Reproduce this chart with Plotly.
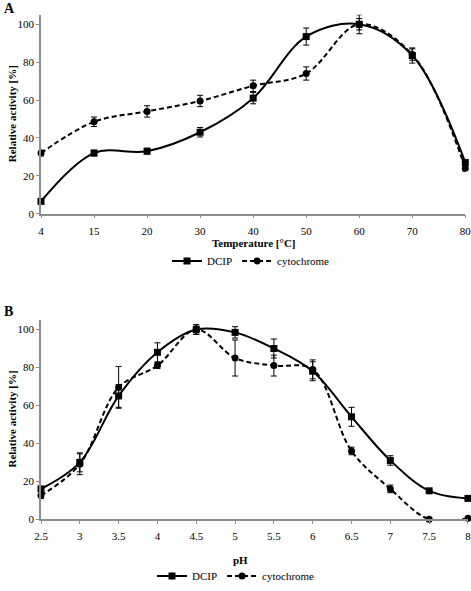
import plotly.graph_objects as go

# Panel A: temperature
temp_labels = ["4", "15", "20", "30", "40", "50", "60", "70", "80"]
dcip_A = [6.5, 32, 33, 43, 61, 93.5, 100, 83.5, 27]
dcip_A_err = [1, 1.5, 1.5, 2.5, 3, 4.5, 3, 4, 1.5]
cyto_A = [32, 48.5, 54, 59.5, 67.5, 74, 100, 84, 24]
cyto_A_err = [1.5, 2.5, 3, 3, 3, 3.5, 5, 3, 1.5]

# Panel B: pH
ph_vals = [2.5, 3, 3.5, 4, 4.5, 5, 5.5, 6, 6.5, 7, 7.5, 8]
ph_ticks = [2.5, 3, 3.5, 4, 4.5, 5, 5.5, 6, 6.5, 7, 7.5, 8]
ph_ticktext = ["2.5", "3", "3.5", "4", "4.5", "5", "5.5", "6", "6.5", "7", "7.5", "8"]
dcip_B = [16, 30, 65, 88, 100, 98.5, 90, 78, 54, 31, 15, 11]
dcip_B_err = [1, 5, 6, 5, 2.5, 3, 5, 5, 5, 2.5, 0.5, 1]
cyto_B = [12.5, 29, 69.5, 81, 100, 85, 81, 79, 36, 16, 0, 0.5]
cyto_B_err = [1.5, 5.5, 11, 1.5, 2.5, 9.5, 5.5, 5, 2, 2, 0.5, 0.5]

FONT = "'Liberation Serif', 'Times New Roman', 'DejaVu Serif', serif"
W, H = 471, 591
ML, MR = 41, 3

def err(a):
    return dict(type="data", array=a, visible=True, color="black", thickness=1, width=3)

fig = go.Figure()
# A traces
fig.add_trace(go.Scatter(x=temp_labels, y=dcip_A, name="DCIP", mode="lines+markers",
    line=dict(color="black", width=2, shape="spline", smoothing=1),
    marker=dict(symbol="square", size=7, color="black"), error_y=err(dcip_A_err),
    xaxis="x", yaxis="y", legend="legend", cliponaxis=False))
fig.add_trace(go.Scatter(x=temp_labels, y=cyto_A, name="cytochrome", mode="lines+markers",
    line=dict(color="black", width=2, shape="spline", smoothing=1, dash="5px,3px"),
    marker=dict(symbol="circle", size=7, color="black"), error_y=err(cyto_A_err),
    xaxis="x", yaxis="y", legend="legend", cliponaxis=False))
# B traces
fig.add_trace(go.Scatter(x=ph_vals, y=dcip_B, name="DCIP", mode="lines+markers",
    line=dict(color="black", width=2, shape="spline", smoothing=1),
    marker=dict(symbol="square", size=7, color="black"), error_y=err(dcip_B_err),
    xaxis="x2", yaxis="y2", legend="legend2", cliponaxis=False))
fig.add_trace(go.Scatter(x=ph_vals, y=cyto_B, name="cytochrome", mode="lines+markers",
    line=dict(color="black", width=2, shape="spline", smoothing=1, dash="5px,3px"),
    marker=dict(symbol="circle", size=7, color="black"), error_y=err(cyto_B_err),
    xaxis="x2", yaxis="y2", legend="legend2", cliponaxis=False))

pw = W - ML - MR
def px_x(p):
    return (p - ML) / pw
def px_y(p):
    return 1 - p / H

axis_common = dict(showline=True, linecolor="#8c8c8c", linewidth=1.5, showgrid=False,
                   zeroline=False, ticks="outside", ticklen=3, tickcolor="#8c8c8c",
                   tickfont=dict(family=FONT, size=11, color="black"), automargin=False,
                   ticklabeloverflow="allow")

fig.update_layout(
    width=W, height=H, margin=dict(l=ML, r=MR, t=0, b=0),
    paper_bgcolor="white", plot_bgcolor="white",
    font=dict(family=FONT, size=11, color="black"),
    xaxis=dict(type="category", range=[0, 8], domain=[0, px_x(465.3)], anchor="y",
               ticklabelstandoff=3, **axis_common),
    yaxis=dict(range=[0, 105], tickvals=[0, 20, 40, 60, 80, 100],
               domain=[px_y(217), px_y(15)], anchor="x", **axis_common),
    xaxis2=dict(range=[2.5, 8.0005], tickvals=ph_ticks, ticktext=ph_ticktext,
                domain=[0, 1], anchor="y2", ticklabelstandoff=3, **axis_common),
    yaxis2=dict(range=[0, 105], tickvals=[0, 20, 40, 60, 80, 100],
                domain=[px_y(527.3), px_y(325)], anchor="x2", **axis_common),
    legend=dict(orientation="h", x=px_x(251), xanchor="center", y=px_y(265), yanchor="middle",
                font=dict(family=FONT, size=11), bgcolor="rgba(0,0,0,0)", itemwidth=30,
                tracegroupgap=0),
    legend2=dict(orientation="h", x=px_x(236), xanchor="center", y=px_y(585), yanchor="middle",
                 font=dict(family=FONT, size=11), bgcolor="rgba(0,0,0,0)", itemwidth=30,
                 tracegroupgap=0),
    showlegend=True,
)

ann = [
    dict(text="<b>A</b>", x=px_x(2), y=px_y(9), xanchor="left", yanchor="middle", font=dict(size=14)),
    dict(text="<b>B</b>", x=px_x(2), y=px_y(316), xanchor="left", yanchor="middle", font=dict(size=14)),
    dict(text="<b>Temperature [°C]</b>", x=px_x(254), y=px_y(247), xanchor="center", yanchor="middle", font=dict(size=11)),
    dict(text="<b>pH</b>", x=px_x(240), y=px_y(569), xanchor="center", yanchor="middle", font=dict(size=11)),
    dict(text="<b>Relative activity [%]</b>", x=px_x(12), y=px_y(116), xanchor="center", yanchor="middle", textangle=-90, font=dict(size=11)),
    dict(text="<b>Relative activity [%]</b>", x=px_x(12), y=px_y(426), xanchor="center", yanchor="middle", textangle=-90, font=dict(size=11)),
]
for a in ann:
    a.update(xref="paper", yref="paper", showarrow=False)
    a["font"]["family"] = FONT
    a["font"]["color"] = "black"
fig.update_layout(annotations=ann)

fig.write_html("out.html", config={"displayModeBar": False},
               post_script="document.body.style.margin='0';document.body.style.overflow='hidden';")
